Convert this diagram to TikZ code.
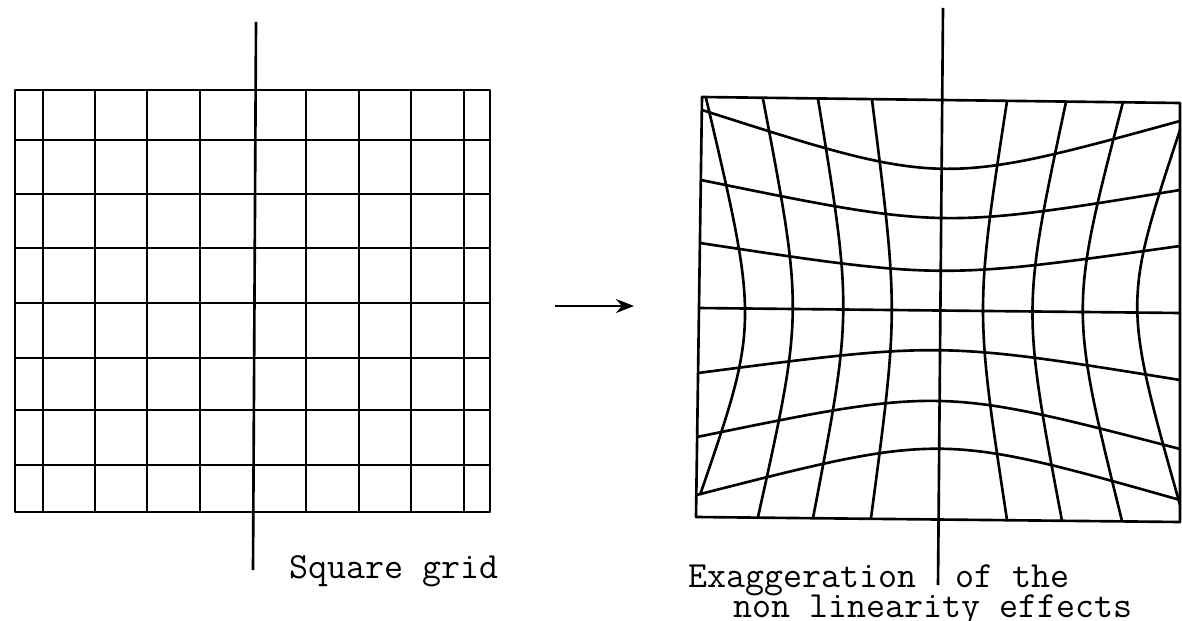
\documentclass[tikz,border=0pt]{standalone}
\usepackage{tikz}
\usetikzlibrary{arrows.meta}
\tikzset{
  gridline/.style = {line width=1.5pt, line join=round},
  axisline/.style = {line width=1.5pt},
  capt/.style = {anchor=base west, inner sep=0pt, font=\ttfamily\fontsize{21}{24}\selectfont},
  arrow/.style = {line width=1.6pt, -{Stealth[length=3.6mm,width=2.8mm]}}
}

\begin{document}
\begin{tikzpicture}[x=0.02cm, y=-0.02cm, >=Stealth]
\useasboundingbox (0,0) rectangle (1182,621);

% square grid
\draw[gridline] (15,90) rectangle (490,512);
\foreach \gx in {43,95,147,200,306,359,411,464}
  \draw[gridline] (\gx,90) -- (\gx,512);
\foreach \gy in {140,194,248,303,358,410,465}
  \draw[gridline] (15,\gy) -- (490,\gy);
\draw[axisline] (256,22) -- (253,570);

\node[capt] (sq) at (289,578) {Square grid};

% arrow
\coordinate (arrS) at (555,306);
\coordinate (arrE) at (634,306);
\draw[arrow] (arrS) -- (arrE);

% distorted grid
\draw[gridline] (702,97) -- (1180,103) -- (1180,522) -- (696,517) -- cycle;
% horizontal curves: left y / control y / right y
\foreach \lx/\ly/\cy/\ry in {702/110/186.5/121, 701/180/229/190, 700/243/279.5/246,
                             698/373/341.5/380, 697/437/387/449, 696.5/495/432.5/500}
  \draw[gridline] (\lx,\ly) .. controls (941,\cy) .. (1180,\ry);
\draw[gridline] (698,308) -- (1180,313);
% vertical curves: top / control / bottom
\foreach \tx/\ty/\cx/\cy/\bx/\by in {706/98/759/323.5/700/495, 763/99/803.5/312/758/517,
                                     818/99/852.5/311.5/813/518, 872/100/898.5/311/871/518,
                                     1007/101/975/309.5/1007/520, 1066/102/1022/308.5/1062/521,
                                     1123/102/1069.5/308.5/1122/521, 1180/130/1123/302.5/1180/505}
  \draw[gridline] (\tx,\ty) .. controls (\cx,\cy) .. (\bx,\by);
\draw[axisline] (943,8) -- (938,585);

\node[capt] (exa) at (688,587) {Exaggeration};
\node[capt] (oft) at (955,587) {of the};
\node[capt] (nonlin) at (733,617) {non linearity effects};

\end{tikzpicture}
\end{document}
